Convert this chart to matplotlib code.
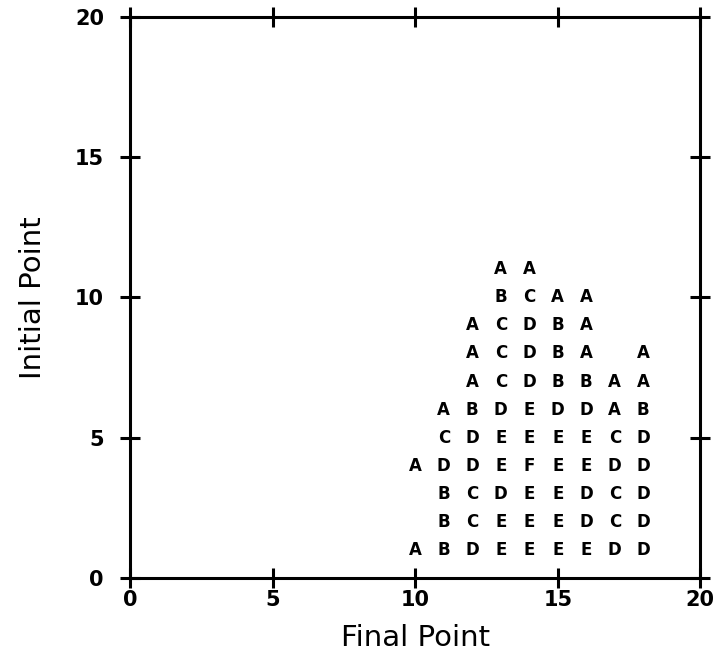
import matplotlib
matplotlib.use("Agg")
import matplotlib.pyplot as plt

# final point columns and initial point rows
final_points = [10, 11, 12, 13, 14, 15, 16, 17, 18]
initial_points = [11, 10, 9, 8, 7, 6, 5, 4, 3, 2, 1]
# one string per row (top to bottom), one char per final point, blank = nothing
grade_rows = [
    "   AA    ",
    "   BCAA  ",
    "  ACDBA  ",
    "  ACDBA A",
    "  ACDBBAA",
    " ABDEDDAB",
    " CDEEEECD",
    "ADDEFEEDD",
    " BCDEEDCD",
    " BCEEEDCD",
    "ABDEEEEDD",
]
ticks = [0, 5, 10, 15, 20]

fig = plt.figure(figsize=(7.16, 6.72), dpi=100)
ax = fig.add_axes([0.182, 0.140, 0.796, 0.835])

for y, row in zip(initial_points, grade_rows):
    for x, ch in zip(final_points, row):
        if ch != " ":
            ax.text(x, y, ch, ha="center", va="center", fontsize=12,
                    fontweight="bold", family="DejaVu Sans")

ax.set_xlim(0, 20)
ax.set_ylim(0, 20)
ax.set_xticks(ticks)
ax.set_yticks(ticks)
for s in ax.spines.values():
    s.set_linewidth(2.2)
ax.tick_params(direction="inout", length=14, width=2.2, top=True, right=True,
               labelsize=15)
ax.tick_params(axis="y", pad=12)
ax.tick_params(axis="x", pad=2)
for lab in ax.get_xticklabels() + ax.get_yticklabels():
    lab.set_fontweight("bold")

ax.set_xlabel("Final Point", fontsize=21, labelpad=10)
ax.set_ylabel("Initial Point", fontsize=21, labelpad=20)

fig.savefig("out.png", dpi=100)
